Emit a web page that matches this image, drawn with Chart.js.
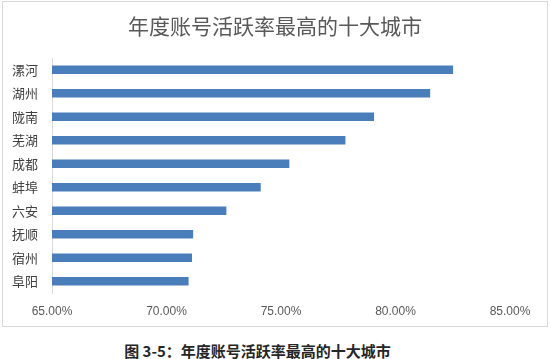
<!DOCTYPE html>
<html>
<head>
<meta charset="utf-8">
<script src="https://cdn.jsdelivr.net/npm/chart.js@4"></script>
<style>
  body { margin: 0; width: 550px; height: 359px; background: #fff; position: relative; overflow: hidden; }
  #frame { position: absolute; left: 2px; top: 1px; width: 546px; height: 326px; border: 1px solid #d9d9d9; box-sizing: border-box; }
  #caption { position: absolute; left: 0; width: 515px; top: 340px; line-height: 18px; text-align: center;
    font: bold 15px "Noto Sans CJK SC", sans-serif; color: #262626; }
</style>
</head>
<body>
<div id="frame"><canvas id="chart1" width="544" height="324"></canvas></div>
<div id="caption">图 3-5：年度账号活跃率最高的十大城市</div>
<script>
// top ten cities by yearly account activity rate
const cities = ['漯河', '湖州', '陇南', '芜湖', '成都', '蚌埠', '六安', '抚顺', '宿州', '阜阳'];
const activeRate = [82.5, 81.5, 79.05, 77.8, 75.35, 74.1, 72.6, 71.15, 71.1, 70.95];
const titleText = '年度账号活跃率最高的十大城市';

new Chart(document.getElementById('chart1'), {
    type: 'bar',
    data: {
        labels: cities,
        datasets: [{
            label: '活跃率',
            data: activeRate,
            backgroundColor: '#4a7ebb',
            barThickness: 8
        }]
    },
    options: {
        indexAxis: 'y',
        responsive: false,
        animation: false,
        layout: { padding: { left: 0, right: 0, top: 0, bottom: 8 } },
        plugins: {
            legend: { display: false },
            tooltip: { enabled: false },
            title: {
                display: true,
                text: titleText,
                color: '#595959',
                font: { family: '"Noto Sans CJK SC", sans-serif', size: 21, weight: 'normal' },
                padding: { top: 11, bottom: 19.8 }
            }
        },
        scales: {
            x: {
                min: 65,
                max: 85,
                ticks: {
                    stepSize: 5,
                    padding: 11,
                    color: '#595959',
                    font: { family: '"Liberation Sans", sans-serif', size: 12 },
                    callback: v => v.toFixed(2) + '%'
                },
                grid: { display: false, drawTicks: false },
                border: { display: false },
                afterFit: s => { s.height = 25; }
            },
            y: {
                ticks: {
                    padding: 14,
                    color: '#404040',
                    font: { family: '"Noto Sans CJK SC", sans-serif', size: 13 }
                },
                grid: { display: false, drawTicks: false },
                border: { display: true, color: '#d9d9d9', width: 1 },
                afterFit: s => { s.width = 49; }
            },
            // empty right-hand spacer so the plot ends at 85% with room on the right
            spacer: {
                type: 'linear',
                position: 'right',
                ticks: { display: false },
                grid: { display: false, drawTicks: false },
                border: { display: false },
                afterFit: s => { s.width = 37; }
            }
        }
    }
});
</script>
</body>
</html>
